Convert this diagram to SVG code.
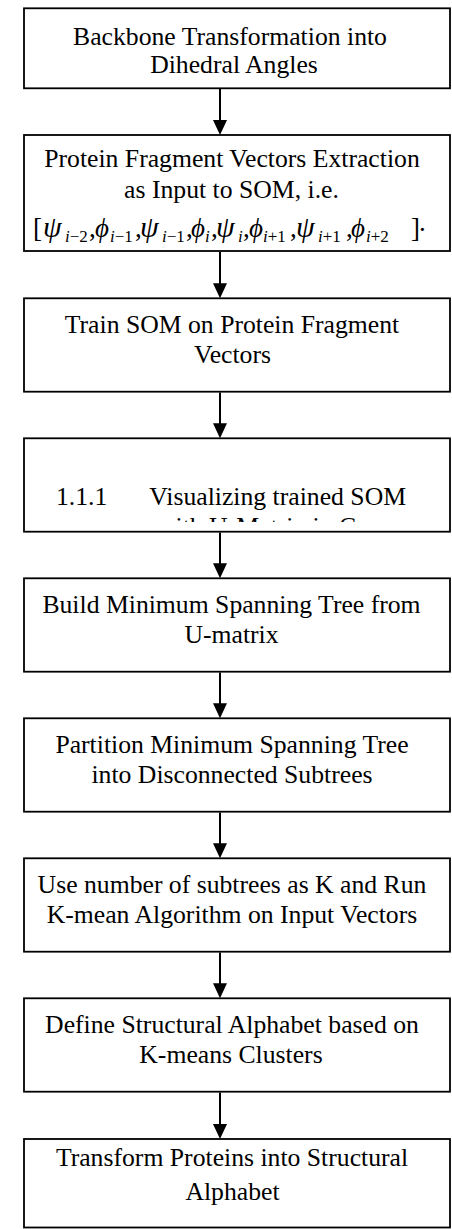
<svg xmlns="http://www.w3.org/2000/svg" width="452" height="1229" viewBox="0 0 452 1229">
<style>
.box{fill:#fff;stroke:#000;stroke-width:1.8}
.t{font-family:"Liberation Serif","Times New Roman",serif;font-size:25.7px;fill:#000;text-anchor:middle}
.ts{font-family:"Liberation Serif","Times New Roman",serif;font-size:25.7px;fill:#000}
.m{font-family:"Liberation Serif","DejaVu Serif","Times New Roman",serif;fill:#000}
.g{font-style:italic;font-size:27px}
.p{font-style:italic;font-size:30px}
.b{font-size:27px}
.s{font-size:17px}
.si{font-size:17px;font-style:italic}
.arr{stroke:#000;stroke-width:2;fill:none;marker-end:url(#ah)}
</style>
<defs>
<marker id="ah" markerUnits="userSpaceOnUse" markerWidth="15" markerHeight="14" refX="11" refY="7" orient="auto">
<path d="M0,0 L15,7 L0,14 z" fill="#000"/>
</marker>
<clipPath id="c4"><rect x="24" y="438" width="428" height="84"/></clipPath>
</defs>
<rect width="452" height="1229" fill="#fff"/>
<g id="n1">
<rect class="box" x="24" y="8.3" width="426" height="80"/>
<text class="t" x="230" y="45">Backbone Transformation into</text>
<text class="t" x="234" y="73.3">Dihedral Angles</text>
</g>
<g id="n2">
<rect class="box" x="24" y="135" width="426" height="116"/>
<text class="t" x="232" y="166.7">Protein Fragment Vectors Extraction</text>
<text class="t" x="231.5" y="198.3">as Input to SOM, i.e.</text>
<text class="m">
<tspan class="b" x="33" y="237">[</tspan><tspan class="p" x="43" y="237">ψ</tspan><tspan class="si" x="65" y="242">i</tspan><tspan class="s" y="242">−2</tspan><tspan class="b" x="89" y="237">,</tspan><tspan class="g" x="95" y="237">ϕ</tspan><tspan class="si" x="110" y="242">i</tspan><tspan class="s" y="242">−1</tspan><tspan class="b" x="135" y="237">,</tspan><tspan class="p" x="140" y="237">ψ</tspan><tspan class="si" x="162" y="242">i</tspan><tspan class="s" y="242">−1</tspan><tspan class="b" x="186" y="237">,</tspan><tspan class="g" x="191" y="237">ϕ</tspan><tspan class="si" x="205" y="242">i</tspan><tspan class="b" x="211" y="237">,</tspan><tspan class="p" x="216" y="237">ψ</tspan><tspan class="si" x="238" y="242">i</tspan><tspan class="b" x="243" y="237">,</tspan><tspan class="g" x="249" y="237">ϕ</tspan><tspan class="si" x="263" y="242">i</tspan><tspan class="s" y="242">+1</tspan><tspan class="b" x="290" y="237">,</tspan><tspan class="p" x="296" y="237">ψ</tspan><tspan class="si" x="318" y="242">i</tspan><tspan class="s" y="242">+1</tspan><tspan class="b" x="346" y="237">,</tspan><tspan class="g" x="351" y="237">ϕ</tspan><tspan class="si" x="366" y="242">i</tspan><tspan class="s" y="242">+2</tspan><tspan class="b" x="411" y="237">]</tspan><tspan class="b" x="419" y="231">.</tspan>
</text>
</g>
<g id="n3">
<rect class="box" x="24" y="298.3" width="426" height="93.4"/>
<text class="t" x="232" y="333.3">Train SOM on Protein Fragment</text>
<text class="t" x="232.5" y="363.3">Vectors</text>
</g>
<g id="n4">
<rect class="box" x="24" y="438.3" width="426" height="93.4"/>
<g clip-path="url(#c4)">
<text class="ts" x="56" y="505">1.1.1</text>
<text class="ts" x="149.3" y="505">Visualizing trained SOM</text>
<text class="ts" x="157" y="535">with U-Matrix in C</text>
</g>
</g>
<g id="n5">
<rect class="box" x="24" y="578.3" width="426" height="93.4"/>
<text class="t" x="231.5" y="613.3">Build Minimum Spanning Tree from</text>
<text class="t" x="231.5" y="643.3">U-matrix</text>
</g>
<g id="n6">
<rect class="box" x="24" y="718.3" width="426" height="93.4"/>
<text class="t" x="232" y="753.3">Partition Minimum Spanning Tree</text>
<text class="t" x="232" y="783.3">into Disconnected Subtrees</text>
</g>
<g id="n7">
<rect class="box" x="24" y="858.3" width="426" height="93.4"/>
<text class="t" x="232" y="893.3">Use number of subtrees as K and Run</text>
<text class="t" x="232" y="923.3">K-mean Algorithm on Input Vectors</text>
</g>
<g id="n8">
<rect class="box" x="24" y="998.3" width="426" height="93.4"/>
<text class="t" x="232" y="1033.3">Define Structural Alphabet based on</text>
<text class="t" x="231" y="1063.3">K-means Clusters</text>
</g>
<g id="n9">
<rect class="box" x="24" y="1139" width="426" height="88.5"/>
<text class="t" x="232" y="1166">Transform Proteins into Structural</text>
<text class="t" x="232.5" y="1200">Alphabet</text>
</g>
<g id="connectors">
<line class="arr" x1="220" y1="89" x2="220" y2="131"/>
<line class="arr" x1="220" y1="252" x2="220" y2="294.3"/>
<line class="arr" x1="220" y1="392.5" x2="220" y2="434.3"/>
<line class="arr" x1="220" y1="532.5" x2="220" y2="574.3"/>
<line class="arr" x1="220" y1="672.5" x2="220" y2="714.3"/>
<line class="arr" x1="220" y1="812.5" x2="220" y2="854.3"/>
<line class="arr" x1="220" y1="952.5" x2="220" y2="994.3"/>
<line class="arr" x1="220" y1="1092.5" x2="220" y2="1135"/>
</g>
</svg>
